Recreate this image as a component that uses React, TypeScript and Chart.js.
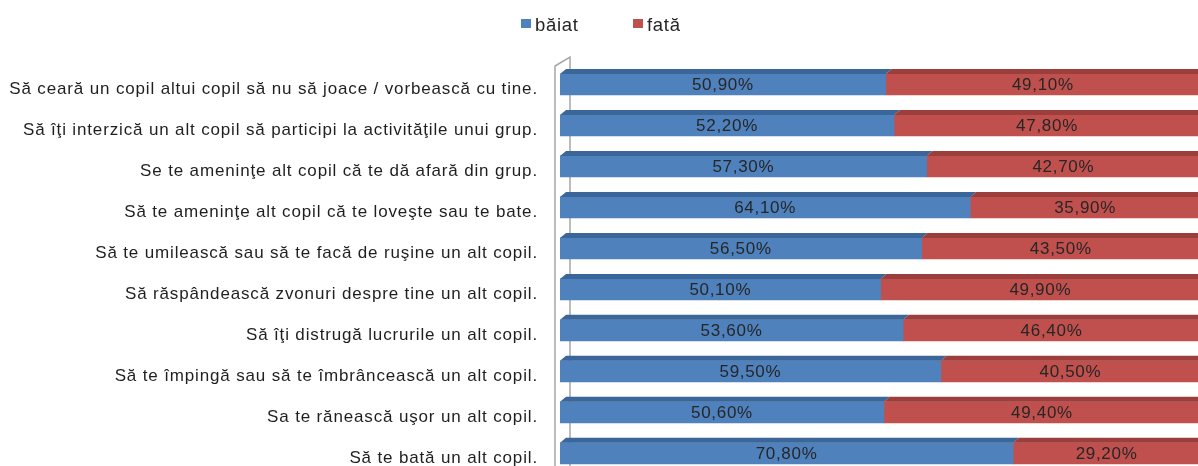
import React, { useEffect, useRef } from 'react';
import { Chart, registerables } from 'chart.js';

Chart.register(...registerables);

const categories = [
  'Să ceară un copil altui copil să nu să joace / vorbească cu tine.',
  'Să îţi interzică un alt copil să participi la activităţile unui grup.',
  'Se te ameninţe alt copil că te dă afară din grup.',
  'Să te ameninţe alt copil că te loveşte sau te bate.',
  'Să te umilească sau să te facă de ruşine un alt copil.',
  'Să răspândească zvonuri despre tine un alt copil.',
  'Să îţi distrugă lucrurile un alt copil.',
  'Să te împingă sau să te îmbrâncească un alt copil.',
  'Sa te rănească uşor un alt copil.',
  'Să te bată un alt copil.',
];

const boyValues = [50.9, 52.2, 57.3, 64.1, 56.5, 50.1, 53.6, 59.5, 50.6, 70.8];
const girlValues = [49.1, 47.8, 42.7, 35.9, 43.5, 49.9, 46.4, 40.5, 49.4, 29.2];

const seriesNames = ['băiat', 'fată'];
const frontColors = ['#4f81bd', '#c0504d'];
const topColors = ['#3b6699', '#9c3e3c'];

const FONT = '"Liberation Sans", Arial, sans-serif';
const LETTER_SPACING = '0.85px';
const DEPTH_X = 6;
const DEPTH_Y = 5;

function fmt(v: number): string {
  return v.toFixed(2).replace('.', ',') + '%';
}

export default function App() {
  const ref = useRef<HTMLCanvasElement>(null);

  useEffect(() => {
    if (!ref.current) return;

    const threeD = {
      id: 'threeD',
      beforeLayout(chart: any) {
        (chart.ctx as any).letterSpacing = LETTER_SPACING;
      },
      beforeDraw(chart: any) {
        (chart.ctx as any).letterSpacing = LETTER_SPACING;
      },
      beforeDatasetsDraw(chart: any) {
        const ctx = chart.ctx as CanvasRenderingContext2D;
        const area = chart.chartArea;
        const x0 = area.left - 5;
        const x1 = area.left + 10;
        const yFront = area.top + 2;
        const yBack = area.top - 7;
        ctx.save();
        ctx.strokeStyle = '#a6a6a6';
        ctx.lineWidth = 1.5;
        ctx.beginPath();
        ctx.moveTo(x0, chart.height);
        ctx.lineTo(x0, yFront);
        ctx.lineTo(x1, yBack);
        ctx.lineTo(x1, chart.height);
        ctx.stroke();
        ctx.restore();
      },
      afterDatasetsDraw(chart: any) {
        const ctx = chart.ctx as CanvasRenderingContext2D;
        ctx.save();
        (ctx as any).letterSpacing = '0.7px';
        chart.data.datasets.forEach((ds: any, di: number) => {
          const meta = chart.getDatasetMeta(di);
          meta.data.forEach((bar: any) => {
            const top = bar.y - bar.height / 2;
            ctx.fillStyle = topColors[di];
            ctx.beginPath();
            ctx.moveTo(bar.base, top);
            ctx.lineTo(bar.x, top);
            ctx.lineTo(bar.x + DEPTH_X, top - DEPTH_Y);
            ctx.lineTo(bar.base + DEPTH_X, top - DEPTH_Y);
            ctx.closePath();
            ctx.fill();
          });
        });
        ctx.fillStyle = '#262626';
        ctx.font = '17px ' + FONT;
        ctx.textAlign = 'center';
        ctx.textBaseline = 'middle';
        chart.data.datasets.forEach((ds: any, di: number) => {
          const meta = chart.getDatasetMeta(di);
          meta.data.forEach((bar: any, i: number) => {
            const cx = (bar.base + bar.x) / 2;
            ctx.fillText(fmt(ds.data[i]), cx, bar.y + 1);
          });
        });
        ctx.restore();
      },
      afterDraw(chart: any) {
        const ctx = chart.ctx as CanvasRenderingContext2D;
        ctx.save();
        (ctx as any).letterSpacing = '0.7px';
        ctx.font = '18.5px ' + FONT;
        ctx.textAlign = 'left';
        ctx.textBaseline = 'alphabetic';
        const items = [
          { x: 521, label: seriesNames[0], color: frontColors[0] },
          { x: 633, label: seriesNames[1], color: frontColors[1] },
        ];
        items.forEach((it) => {
          ctx.fillStyle = it.color;
          ctx.fillRect(it.x, 19, 10, 9);
          ctx.fillStyle = '#262626';
          ctx.fillText(it.label, it.x + 14, 31);
        });
        ctx.restore();
      },
    };

    const chart = new Chart(ref.current, {
      type: 'bar',
      data: {
        labels: categories,
        datasets: [
          {
            label: seriesNames[0],
            data: boyValues,
            backgroundColor: frontColors[0],
            barThickness: 21,
            borderWidth: 0,
          },
          {
            label: seriesNames[1],
            data: girlValues,
            backgroundColor: frontColors[1],
            barThickness: 21,
            borderWidth: 0,
          },
        ],
      },
      options: {
        indexAxis: 'y',
        responsive: false,
        animation: false,
        layout: { padding: { top: 64, left: 0, right: 0, bottom: 0 } },
        plugins: {
          legend: { display: false },
          tooltip: { enabled: false },
        },
        scales: {
          x: {
            stacked: true,
            min: 0,
            max: 100,
            display: false,
          },
          y: {
            stacked: true,
            grid: { display: false, drawTicks: false },
            border: { display: false },
            afterFit(scale: any) {
              scale.width = 560;
            },
            ticks: {
              padding: 22,
              labelOffset: 5,
              color: '#1f1f1f',
              font: { family: FONT, size: 17 },
              autoSkip: false,
            },
          },
        },
      },
      plugins: [threeD],
    });

    return () => chart.destroy();
  }, []);

  return (
    <div
      style={{
        position: 'fixed',
        left: 0,
        top: 0,
        width: 1198,
        height: 466,
        overflow: 'hidden',
        background: '#fff',
      }}
    >
      <canvas ref={ref} width={1200} height={506} style={{ display: 'block' }} />
    </div>
  );
}
